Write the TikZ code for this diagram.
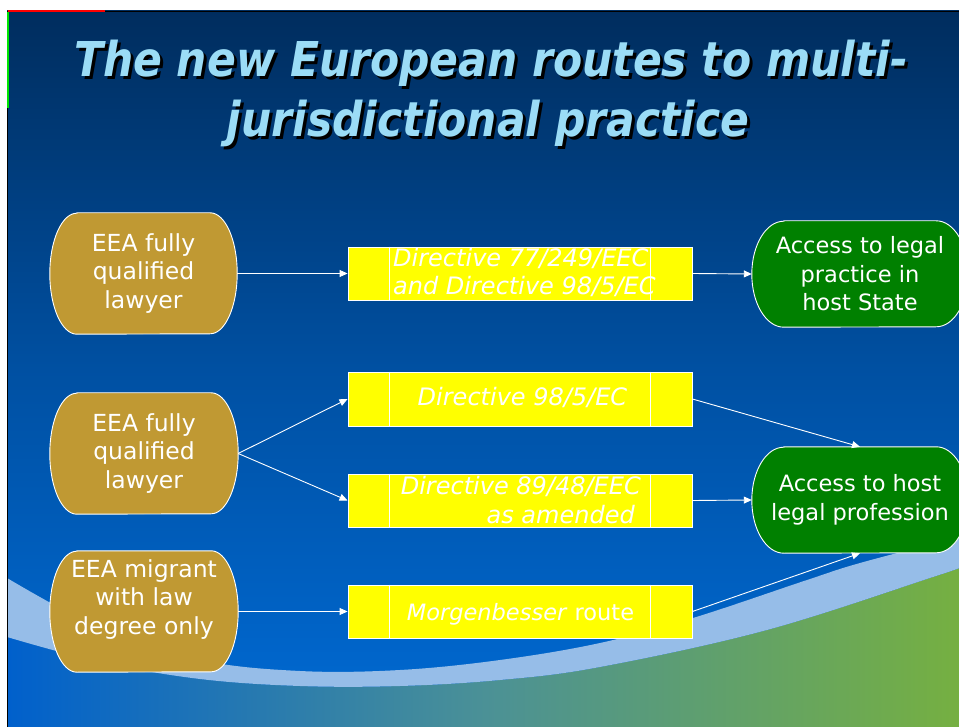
\documentclass[tikz,border=0pt]{standalone}
\usepackage{fontspec}
\setmainfont{DejaVu Sans}
\newfontfamily\titlefont[FakeStretch=0.885]{DejaVu Sans}
\usetikzlibrary{arrows.meta}
\pgfdeclarelayer{back}
\pgfdeclarelayer{shapes}
\pgfsetlayers{back,shapes,main}
\definecolor{navytop}{RGB}{0,45,94}
\definecolor{navymid}{RGB}{0,80,162}
\definecolor{navybot}{RGB}{0,106,212}
\definecolor{lowleft}{RGB}{0,96,204}
\definecolor{lowmid}{RGB}{75,145,150}
\definecolor{lowright}{RGB}{118,176,64}
\definecolor{bandblue}{RGB}{150,189,232}
\definecolor{brownfill}{RGB}{192,153,51}
\definecolor{greenfill}{RGB}{0,128,0}
\definecolor{yellowfill}{RGB}{255,255,0}
\definecolor{titleblue}{RGB}{155,220,246}
\definecolor{markgreen}{RGB}{0,230,0}
\newcommand\pillshape[4]{%
\path[fill=#4,draw=white,line width=0.9pt]
 ([xshift=#2pt]#1.north west) -- ([xshift=-#2pt]#1.north east)
 arc[start angle=90,end angle=-90,x radius=#2pt,y radius=#3pt]
 -- ([xshift=#2pt]#1.south west)
 arc[start angle=270,end angle=90,x radius=#2pt,y radius=#3pt] -- cycle;}
\newcommand\shadowed[1]{\makebox[0pt][l]{\hspace*{3pt}\raisebox{-3pt}{\textcolor{black}{#1}}}#1}
\begin{document}
\begin{tikzpicture}[x=1pt,y=-1pt,
  pill/.style={rectangle,inner sep=0pt,draw=none,text=white,align=center,
    font=\fontsize{23.5}{28.5}\selectfont},
  gpill/.style={pill,font=\fontsize{22.5}{28.5}\selectfont},
  ybox/.style={rectangle,inner sep=0pt,draw=white,line width=0.9pt,fill=yellowfill,
    minimum width=344pt},
  ytext/.style={inner sep=0pt,text=white,font=\fontsize{24}{28}\selectfont\itshape},
  ttext/.style={inner sep=0pt,anchor=base,text=titleblue,font=\titlefont\bfseries\itshape\fontsize{48}{60}\selectfont},
  arr/.style={draw=white,line width=0.9pt,-{Triangle[length=8pt,width=7pt]}}]
\useasboundingbox (0,0) rectangle (959,727);

% title
\node[ttext] (ti1) at (491,77) {\shadowed{The new European routes to multi-}};
\node[ttext] (ti2) at (488,137) {\shadowed{jurisdictional practice}};

% left nodes
\node[pill,minimum width=187pt,minimum height=121pt] (n1) at (143.5,273.5) {EEA fully\\qualified\\lawyer};
\node[pill,minimum width=188pt,minimum height=121pt] (n2) at (144,453.5) {EEA fully\\qualified\\lawyer};
\node[pill,minimum width=188pt,minimum height=121pt] (n3) at (144,611.5) {};
\node[pill] (t3) at (144,599.3) {EEA migrant\\with law\\degree only};

% yellow boxes
\node[ybox,minimum height=53pt] (y1) at (520,273.5) {};
\node[ybox,minimum height=54pt] (y2) at (520,399) {};
\node[ybox,minimum height=53pt] (y3) at (520,500.5) {};
\node[ybox,minimum height=53pt] (y4) at (520,611.5) {};
\foreach \b in {y1,y2,y3,y4}{
  \draw[white,line width=0.8pt] ([xshift=42pt]\b.north west) -- ([xshift=42pt]\b.south west);
  \draw[white,line width=0.8pt] ([xshift=-42pt]\b.north east) -- ([xshift=-42pt]\b.south east);
}
\node[ytext,anchor=base west] (y1a) at (393,267) {Directive 77/249/EEC};
\node[ytext,anchor=base west] (y1b) at (393,295) {and Directive 98/5/EC};
\node[ytext,anchor=base] (y2a) at (522.5,406) {Directive 98/5/EC};
\node[ytext,anchor=base east] (y3a) at (641,494) {Directive 89/48/EEC};
\node[ytext,anchor=base east] (y3b) at (635,523) {as amended};
\node[ytext,anchor=base,font=\fontsize{22.5}{28}\selectfont\itshape] (y4a) at (520.5,620) {Morgenbesser \textup{route}};

% green nodes
\node[gpill,minimum width=216pt,minimum height=106pt] (gA) at (860,274) {Access to legal\\practice in\\host State};
\node[gpill,minimum width=216pt,minimum height=106pt] (gB) at (860,500) {Access to host\\legal profession};

% connectors
\draw[arr] (n1.east) -- (y1.west);
\draw[arr] (y1.east) -- (gA.west);
\draw[arr] (n2.east) -- (y2.west);
\draw[arr] (n2.east) -- (y3.west);
\draw[arr] (y2.east) -- (gB.north);
\draw[arr] (y3.east) -- (gB.west);
\draw[arr] (n3.east) -- (y4.west);
\draw[arr] (y4.east) -- (gB.south);

% shapes
\begin{pgfonlayer}{shapes}
\pillshape{n1}{27}{60.5}{brownfill}
\pillshape{n2}{27}{60.5}{brownfill}
\pillshape{n3}{27}{60.5}{brownfill}
\pillshape{gA}{32}{53}{greenfill}
\pillshape{gB}{32}{53}{greenfill}
\end{pgfonlayer}

% background
\begin{pgfonlayer}{back}
\fill[white] (0,0) rectangle (959,727);
\shade[top color=navytop,bottom color=navybot,middle color=navymid] (7,11) rectangle (959,727);
\shade[left color=lowleft,right color=lowright,middle color=lowmid]
  plot[smooth,tension=0.6] coordinates {(7,637) (100,662) (200,679) (300,686) (400,686) (500,680) (600,667) (767,630) (933,577) (959,568)}
  -- (959,727) -- (7,727) -- cycle;
\fill[bandblue]
  plot[smooth,tension=0.6] coordinates {(7,578) (100,628) (200,660) (300,671) (400,670) (500,660) (600,643) (693,618) (807,580) (860,563) (959,537)}
  -- plot[smooth,tension=0.6] coordinates {(959,568) (933,577) (767,630) (600,667) (500,680) (400,686) (300,686) (200,679) (100,662) (7,637)}
  -- cycle;
\draw[black,line width=0.8pt] (7,727) -- (7,11) -- (959,11);
\draw[red,line width=2pt] (8,11.5) -- (105,11.5);
\draw[markgreen,line width=1.4pt] (7.8,12) -- (7.8,108);
\end{pgfonlayer}
\end{tikzpicture}
\end{document}
